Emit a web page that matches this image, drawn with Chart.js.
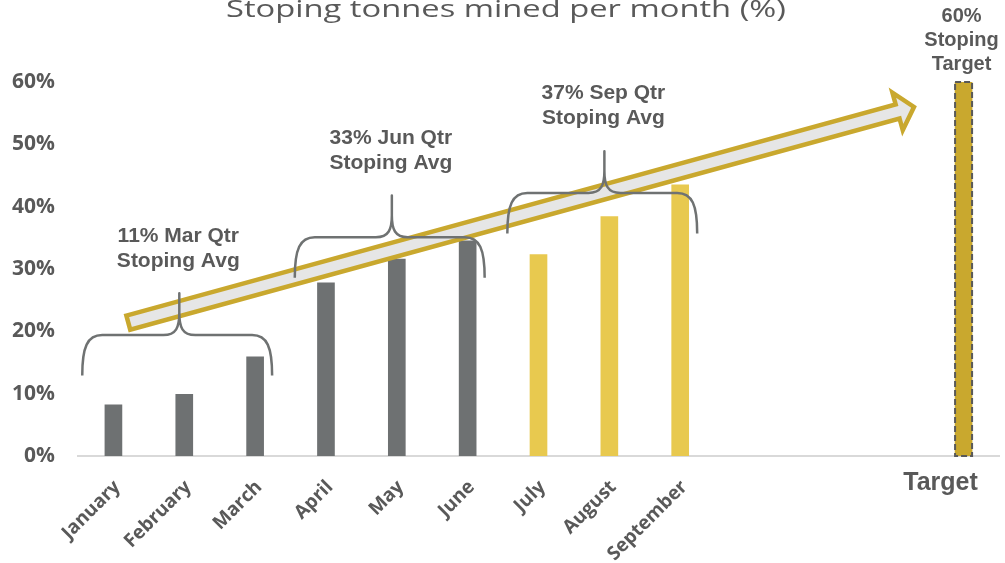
<!DOCTYPE html>
<html>
<head>
<meta charset="utf-8">
<script src="https://cdn.jsdelivr.net/npm/chart.js@4.4.1/dist/chart.umd.min.js"></script>
<style>
  html, body { margin: 0; padding: 0; background: #fff; }
  #wrap { width: 1005px; height: 563px; }
</style>
</head>
<body>
<div id="wrap"><canvas id="stopingChart"></canvas></div>
<script>
// Stoping tonnes mined per month (% of tonnes mined)
const months = ['January', 'February', 'March', 'April', 'May', 'June', 'July', 'August', 'September'];
const monthValues = [8.2, 9.9, 15.9, 27.8, 31.6, 34.5, 32.3, 38.4, 43.5];
const targetLabel = 'Target';
const targetValue = 60;
const gapSlots = 3;            // empty slots between September and Target
const yTicks = [0, 10, 20, 30, 40, 50, 60];

// quarter averages written above the braces
const quarterNames = ['Mar Qtr', 'Jun Qtr', 'Sep Qtr'];
const quarterAvgs = [11, 33, 37];
const quarterMonths = [[0, 2], [3, 5], [6, 8]];   // first / last month index
const braceLevels = [19.4, 35.1, 42.2];            // % level of the brace line

// trend arrow, [category index, %]
const arrowFrom = [0.21, 21.4];
const arrowTo = [11.3, 56.0];

const titleText = 'Stoping tonnes mined per month (%)';

const GREY = '#6e7172';
const YELLOW = '#e8c94f';
const GOLD = '#c9a82e';
const TEXT = '#595959';

const labels = months.concat(Array(gapSlots).fill(''), [targetLabel]);
const values = monthValues.concat(Array(gapSlots).fill(null), [targetValue]);
const colors = labels.map((l, i) => i < 6 ? GREY : (i < months.length ? YELLOW : GOLD));

function drawBrace(ctx, x0, x1, xc, yH, yEnd, yTop) {
  ctx.beginPath();
  ctx.moveTo(x0, yEnd);
  ctx.bezierCurveTo(x0, yH + 12, x0 + 5, yH, x0 + 20, yH);
  ctx.lineTo(xc - 16, yH);
  ctx.bezierCurveTo(xc - 3, yH, xc, yH - 8, xc, yH - 22);
  ctx.lineTo(xc, yTop);
  ctx.lineTo(xc, yH - 22);
  ctx.bezierCurveTo(xc, yH - 8, xc + 3, yH, xc + 16, yH);
  ctx.lineTo(x1 - 20, yH);
  ctx.bezierCurveTo(x1 - 5, yH, x1, yH + 12, x1, yEnd);
  ctx.stroke();
}

function drawArrow(ctx, p0, p1) {
  const len = Math.hypot(p1.x - p0.x, p1.y - p0.y);
  const h = 7.3, H = 19.5, head = 17;
  ctx.save();
  ctx.translate(p0.x, p0.y);
  ctx.rotate(Math.atan2(p1.y - p0.y, p1.x - p0.x));
  ctx.beginPath();
  ctx.moveTo(0, -h);
  ctx.lineTo(len - head, -h);
  ctx.lineTo(len - head, -H);
  ctx.lineTo(len, 0);
  ctx.lineTo(len - head, H);
  ctx.lineTo(len - head, h);
  ctx.lineTo(0, h);
  ctx.closePath();
  ctx.fillStyle = '#e6e6e6';
  ctx.fill();
  ctx.lineWidth = 4.5;
  ctx.lineJoin = 'miter';
  ctx.strokeStyle = GOLD;
  ctx.stroke();
  ctx.restore();
}

const extras = {
  id: 'extras',
  afterDatasetsDraw(chart) {
    const ctx = chart.ctx;
    const xs = chart.scales.x, ys = chart.scales.y;
    const area = chart.chartArea;

    // dashed outline on the target bar
    const bars = chart.getDatasetMeta(0).data;
    const tBar = bars[labels.length - 1];
    ctx.save();
    ctx.setLineDash([6, 3]);
    ctx.lineWidth = 2;
    ctx.strokeStyle = '#595959';
    ctx.strokeRect(tBar.x - tBar.width / 2, tBar.y, tBar.width, tBar.base - tBar.y);
    ctx.restore();

    // trend arrow
    drawArrow(ctx,
      { x: xs.getPixelForValue(arrowFrom[0]), y: ys.getPixelForValue(arrowFrom[1]) },
      { x: xs.getPixelForValue(arrowTo[0]), y: ys.getPixelForValue(arrowTo[1]) });

    // braces and quarter text
    ctx.save();
    ctx.strokeStyle = '#6f7272';
    ctx.lineWidth = 2.5;
    ctx.lineJoin = 'round';
    ctx.fillStyle = TEXT;
    ctx.textAlign = 'center';
    ctx.textBaseline = 'alphabetic';
    ctx.font = 'bold 21px "Liberation Sans", Arial, sans-serif';
    quarterMonths.forEach(([a, b], i) => {
      const lvl = braceLevels[i];
      const x0 = xs.getPixelForValue(a - 0.44);
      const x1 = xs.getPixelForValue(b + 0.24);
      const xc = xs.getPixelForValue(a + 0.93);
      drawBrace(ctx, x0, x1, xc, ys.getPixelForValue(lvl),
        ys.getPixelForValue(lvl - 6.5), ys.getPixelForValue(lvl + 6.7));
      const ty = ys.getPixelForValue(lvl + 15);
      ctx.fillText(quarterAvgs[i] + '% ' + quarterNames[i], xc - 1, ty);
      ctx.fillText('Stoping Avg', xc - 1, ty + 25);
    });
    ctx.restore();

    // target text above the bar
    ctx.save();
    ctx.fillStyle = TEXT;
    ctx.textAlign = 'center';
    ctx.font = 'bold 20px "Liberation Sans", Arial, sans-serif';
    ['Target', 'Stoping', targetValue + '%'].forEach((t, k) => {
      ctx.fillText(t, tBar.x - 2, tBar.y - 12 - 24 * k);
    });
    ctx.restore();

    // category labels
    ctx.save();
    ctx.fillStyle = TEXT;
    ctx.font = 'bold 19px "Open Sans", sans-serif';
    ctx.textAlign = 'right';
    ctx.textBaseline = 'middle';
    months.forEach((m, i) => {
      ctx.save();
      ctx.translate(xs.getPixelForValue(i) + 4, area.bottom + 28);
      ctx.rotate(-Math.PI / 4);
      ctx.fillText(m, 0, 0);
      ctx.restore();
    });
    ctx.textAlign = 'center';
    ctx.textBaseline = 'alphabetic';
    ctx.font = 'bold 25px "Liberation Sans", Arial, sans-serif';
    ctx.fillText(targetLabel, tBar.x - 23, area.bottom + 34);
    ctx.restore();

    // title (top is cut off in the original)
    ctx.save();
    ctx.fillStyle = TEXT;
    ctx.font = '24px "Open Sans", sans-serif';
    ctx.textAlign = 'center';
    ctx.textBaseline = 'alphabetic';
    const w = ctx.measureText(titleText).width;
    ctx.translate(506, 17);
    ctx.scale(560 / w, 1);
    ctx.fillText(titleText, 0, 0);
    ctx.restore();
  }
};

const ctx = document.getElementById('stopingChart').getContext('2d');
const stopingChart = new Chart(ctx, {
  type: 'bar',
  data: {
    labels: labels,
    datasets: [{
      label: 'Stoping tonnes',
      data: values,
      backgroundColor: colors,
      barThickness: 17,
      borderWidth: 0
    }]
  },
  options: {
    responsive: true,
    maintainAspectRatio: false,
    animation: false,
    layout: { padding: { top: 82, right: 6, left: 0, bottom: 0 } },
    plugins: {
      legend: { display: false },
      title: { display: false },
      tooltip: { enabled: false }
    },
    scales: {
      x: {
        grid: { display: false },
        border: { display: true, color: '#d9d9d9', width: 2 },
        ticks: { display: false },
        afterFit(scale) { scale.height = 107; }
      },
      y: {
        min: 0,
        max: 60,
        grid: { display: false, drawTicks: false },
        border: { display: false },
        afterBuildTicks(scale) { scale.ticks = yTicks.map(v => ({ value: v })); },
        afterFit(scale) { scale.width = 78; },
        ticks: {
          padding: 23,
          color: TEXT,
          font: { family: '"Open Sans", sans-serif', size: 21, weight: 'bold' },
          callback: v => v + '%'
        }
      }
    }
  },
  plugins: [extras]
});
</script>
</body>
</html>
